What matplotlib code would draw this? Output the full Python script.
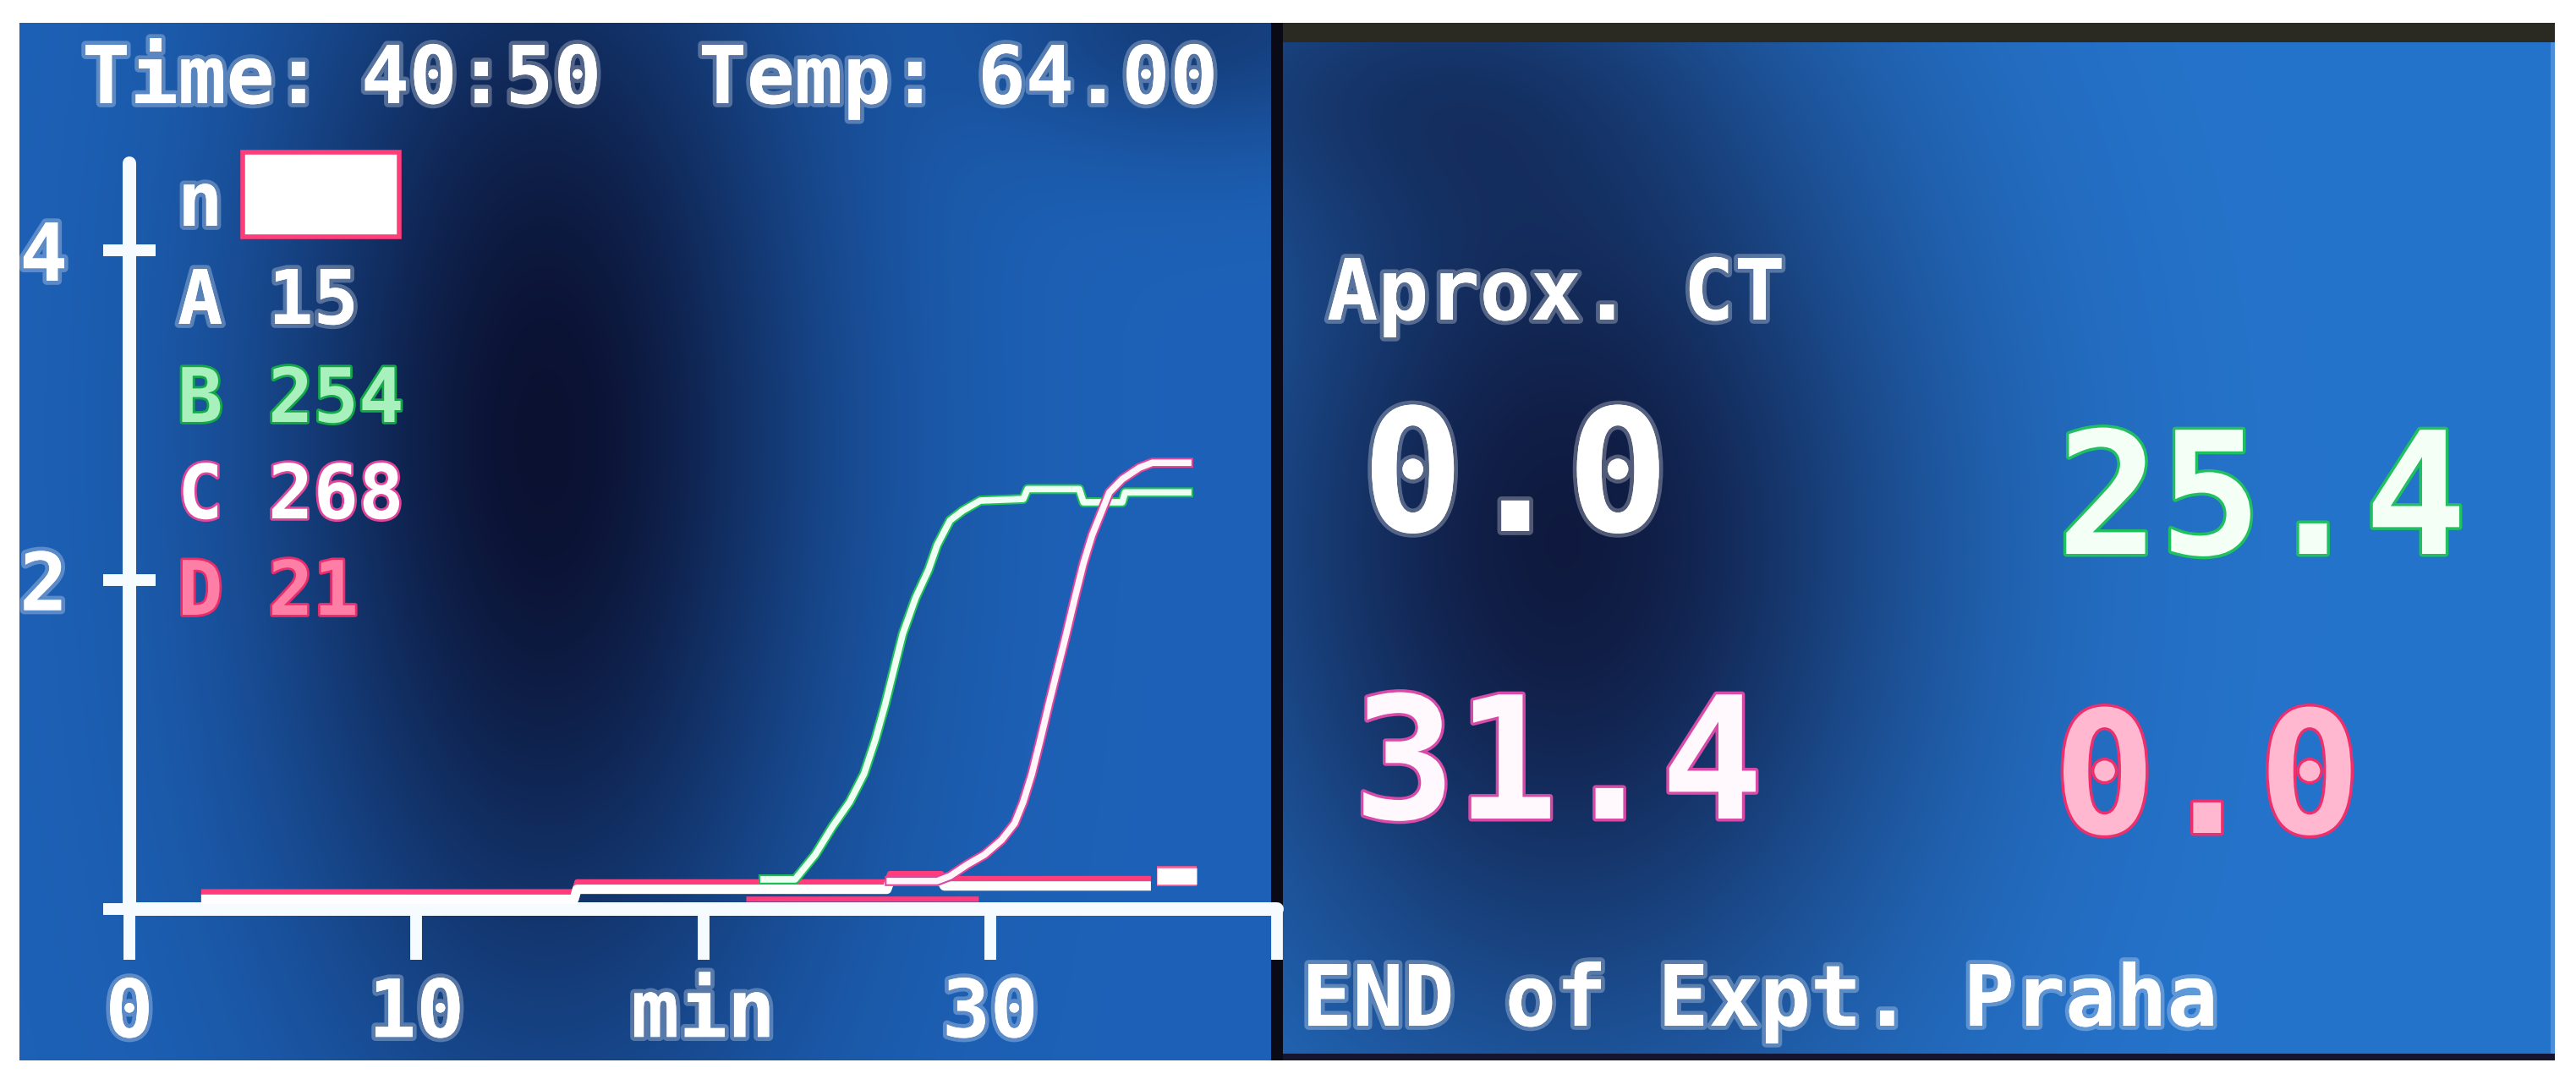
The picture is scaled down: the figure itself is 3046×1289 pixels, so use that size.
import numpy as np
import matplotlib
matplotlib.use("Agg")
import matplotlib.pyplot as plt
from matplotlib import patheffects as pe
from matplotlib.patches import Rectangle

# ---------------- data ----------------
time_label = "40:50"
temp_value = 64.00
channels = ["A", "B", "C", "D"]
channel_counts = [15, 254, 268, 21]
ct_values = [0.0, 25.4, 31.4, 0.0]          # A, B, C, D approx. CT
x_ticks = [0, 10, 20, 30, 40]
x_tick_labels = ["0", "10", "min", "30", ""]
y_ticks = [0, 2, 4]
y_tick_labels = ["", "2", "4"]

time_A = [2.5, 15.5, 15.6, 26.4, 26.5, 28.3, 28.4, 35.6]
val_A = [0.06, 0.06, 0.12, 0.12, 0.17, 0.17, 0.14, 0.14]

time_B = [22.1, 23.2, 23.9, 24.5, 25.1, 25.6, 26.0, 26.35, 26.65, 26.95, 27.4, 27.85,
          28.15, 28.6, 29.05, 29.65, 31.15, 31.3, 33.1, 33.25, 34.6, 34.7, 36.9]
val_B = [0.18, 0.18, 0.33, 0.50, 0.65, 0.82, 1.03, 1.25, 1.46, 1.67, 1.89, 2.06,
         2.21, 2.36, 2.42, 2.48, 2.49, 2.55, 2.55, 2.47, 2.47, 2.53, 2.53]

time_C = [26.5, 28.15, 28.6, 29.2, 29.8, 30.4, 30.85, 31.15, 31.45, 31.75, 32.05, 32.35,
          32.65, 32.95, 33.25, 33.55, 33.85, 34.15, 34.6, 35.2, 35.65, 36.9]
val_C = [0.17, 0.17, 0.20, 0.27, 0.33, 0.42, 0.52, 0.65, 0.82, 1.03, 1.25, 1.46,
         1.67, 1.89, 2.10, 2.27, 2.40, 2.53, 2.61, 2.68, 2.71, 2.71]

time_D = [2.5, 15.5, 15.6, 26.4, 26.5, 28.3, 28.4, 35.6, np.nan, 21.5, 29.6]
val_D = [0.105, 0.105, 0.165, 0.165, 0.215, 0.215, 0.185, 0.185, np.nan, 0.06, 0.06]

time_end = [35.8, 37.2]
val_end = [0.20, 0.20]

# ---------------- figure ----------------
plt.rcParams["font.family"] = ["DejaVu Sans Mono", "DejaVu Sans"]
plt.rcParams["font.weight"] = "bold"

W, H = 3046, 1289
fig = plt.figure(figsize=(W / 100, H / 100), dpi=100, facecolor="white")


def rect(x0, y0, x1, y1):
    return [x0 / W, 1 - y1 / H, (x1 - x0) / W, (y1 - y0) / H]


def hexrgb(h):
    h = h.lstrip("#")
    return np.array([int(h[i:i + 2], 16) for i in (0, 2, 4)]) / 255.0


def gradient(bright, dark, blobs, ny, nx):
    yy, xx = np.mgrid[0:1:ny * 1j, 0:1:nx * 1j]
    d = np.zeros_like(xx)
    for cx, cy, sx, sy, a in blobs:
        d += a * np.exp(-((xx - cx) / sx) ** 2 - ((yy - cy) / sy) ** 2)
    d = np.clip(d, 0, 1)[..., None]
    return hexrgb(bright) * (1 - d) + hexrgb(dark) * d


# screen backgrounds, placed pixel-exact
top, bot = 27, 1254
left_img = gradient("#1d62b8", "#0b1131",
                    [(0.42, 0.40, 0.22, 0.60, 1.0), (0.95, 0.0, 0.18, 0.12, 0.45)],
                    bot - top, 1503 - 23)
right_img = gradient("#2574cc", "#0e1538",
                     [(0.22, 0.50, 0.28, 0.50, 0.95), (0.05, 0.05, 0.25, 0.15, 0.35)],
                     bot - top, 3021 - 1517)
right_img[:, -5:] = hexrgb("#4a8fdc")
right_img[:23] = hexrgb("#2b2a22")
right_img[-8:] = hexrgb("#151530")
sep_img = np.ones((bot - top, 1517 - 1503, 3)) * hexrgb("#0a0a16")
fig.figimage(left_img, xo=23, yo=H - bot, origin="upper", zorder=-5)
fig.figimage(sep_img, xo=1503, yo=H - bot, origin="upper", zorder=-5)
fig.figimage(right_img, xo=1517, yo=H - bot, origin="upper", zorder=-5)

# ---------------- plot axes ----------------
px0, ppm = 153.0, 33.93      # x pixel of t=0, pixels per minute
py0, ppv = 1075.0, 194.75    # y pixel of v=0, pixels per unit
ax_x0, ax_x1, ax_y0, ax_y1 = 23, 1525, 27, 1254
axP = fig.add_axes(rect(ax_x0, ax_y0, ax_x1, ax_y1))
axP.set_zorder(2)
axP.patch.set_alpha(0)
axP.set_xlim((ax_x0 - px0) / ppm, (ax_x1 - px0) / ppm)
axP.set_ylim((py0 - ax_y1) / ppv, (py0 - ax_y0) / ppv)

for s in ["top", "right"]:
    axP.spines[s].set_visible(False)
axP.spines["left"].set_position(("data", 0))
axP.spines["bottom"].set_position(("data", 0))
axP.spines["left"].set_bounds(0, 4.53)
axP.spines["bottom"].set_bounds(0, 40)
for s in ["left", "bottom"]:
    axP.spines[s].set_color("#f6fbff")
    axP.spines[s].set_linewidth(11.5)
    axP.spines[s].set_capstyle("round")
    axP.spines[s].set_zorder(2.5)

axP.set_xticks(x_ticks)
axP.set_xticklabels(x_tick_labels)
axP.set_yticks(y_ticks)
axP.set_yticklabels(y_tick_labels)
axP.tick_params(axis="x", direction="out", length=43, width=10, color="#f6fbff",
                pad=14, labelsize=68, labelcolor="white")
axP.tick_params(axis="y", direction="inout", length=45, width=10, color="#f6fbff",
                pad=30, labelsize=68, labelcolor="white")

soft = (1, 1, 1, 0.28)
for lab in axP.get_xticklabels() + axP.get_yticklabels():
    lab.set_fontweight("bold")
    lab.set_path_effects([pe.withStroke(linewidth=7, foreground=soft)])

# curves
axP.plot(time_D, val_D, color="#ff3d7c", lw=4.5, solid_capstyle="butt", zorder=3)
axP.plot(time_A, val_A, color="white", lw=8, solid_capstyle="butt", zorder=4)
axP.plot(time_end, val_end, color="white", lw=14, solid_capstyle="butt", zorder=4,
         path_effects=[pe.Stroke(linewidth=17, foreground="#ff5a8c"), pe.Normal()])
axP.plot(time_B, val_B, color="#f0fff4", lw=5.5, zorder=5,
         path_effects=[pe.Stroke(linewidth=8.5, foreground="#1fbf5a"), pe.Normal()])
axP.plot(time_C, val_C, color="#fff6fb", lw=5.5, zorder=6,
         path_effects=[pe.Stroke(linewidth=8.5, foreground="#e0459a"), pe.Normal()])

# ---------------- texts ----------------
glow = [pe.withStroke(linewidth=7, foreground=soft)]


def txt(x, y, s, size, color="white", edge=None, lw=6, ha="left", va="baseline"):
    eff = [pe.Stroke(linewidth=lw, foreground=edge), pe.Normal()] if edge else glow
    fig.text(x / W, 1 - y / H, s, fontsize=size, color=color, ha=ha, va=va,
             fontweight="bold", path_effects=eff, zorder=10)


# header
txt(97, 122, "Time:", 68)
txt(427, 122, time_label, 68)
txt(826, 122, "Temp:", 68)
txt(1156, 122, f"{temp_value:.2f}", 68)

# legend box
txt(210, 267, "n", 64)
fig.patches.append(Rectangle((287 / W, 1 - 280 / H), 185 / W, 100 / H,
                             transform=fig.transFigure, facecolor="white",
                             edgecolor="#ff3d78", linewidth=4, zorder=10))
row_base = [383, 499, 613, 727]
row_style = [("white", None), ("#a8f0bc", "#14a848"), ("white", "#e0459a"),
             ("#ff7ea6", "#e82d6a")]
for ch, n, yb, (c, e) in zip(channels, channel_counts, row_base, row_style):
    txt(210, yb, f"{ch} {n}", 64, color=c, edge=e, lw=4)

# right screen
txt(1569, 378, "Aprox. CT", 72)
ct_pos = [(1610, 628), (2432, 655), (1600, 968), (2428, 985)]
ct_style = [("white", None), ("#f4fff6", "#20c060"), ("#fff8fc", "#d84aa8"),
            ("#ffb8cf", "#ee2f6e")]
for v, (x, y), (c, e) in zip(ct_values, ct_pos, ct_style):
    txt(x, y, f"{v:.1f}", 145, color=c, edge=e, lw=5)
txt(1539, 1213, "END of Expt. Praha", 72)

fig.savefig("out.png", dpi=100, facecolor="white")
